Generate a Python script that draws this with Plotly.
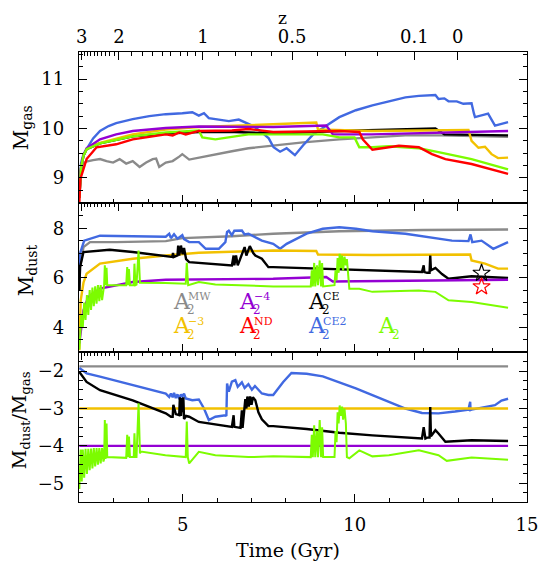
import plotly.graph_objects as go

SERIF = "DejaVu Serif"
GRAY = "#8a8a8a"
BLUE = "#4169e1"
GOLD = "#f2c100"
PURPLE = "#9400d3"
RED = "#ff0000"
GREEN = "#7cfc00"
BLACK = "#000000"

X_RANGE = [1.99, 15.0]

# redshift ticks on the top edges, placed at the matching time (Gyr)
z_labels = ["3", "2", "1", "0.5", "0.1", "0"]
z_label_time = [2.07, 3.15, 5.59, 8.18, 11.73, 12.99]
z_minor_time = [2.15, 2.24, 2.33, 2.43, 2.53, 2.64, 2.76, 2.88, 3.01,
                3.51, 3.84, 4.13, 4.42, 4.66, 4.95, 5.14, 5.38,
                6.05, 6.53, 7.01, 7.57, 8.93, 9.74, 10.66]

# ---------------- top panel: log M_gas
gas_gray_t = [2.0, 2.04, 2.1, 2.2, 2.4, 2.6, 2.79, 2.98, 3.17, 3.36, 3.55, 3.75, 3.94,
              4.13, 4.23, 4.32, 4.51, 4.71, 4.9, 4.99, 5.19, 5.47, 5.95, 6.43, 6.91,
              7.63, 8.5, 9.55, 10.5, 11.47, 12.5, 13.5, 14.45]
gas_gray = [8.75, 9.1, 9.28, 9.33, 9.36, 9.38, 9.34, 9.31, 9.38, 9.29, 9.34, 9.22, 9.31,
            9.38, 9.39, 9.22, 9.31, 9.34, 9.43, 9.48, 9.37, 9.41, 9.48, 9.54, 9.6,
            9.66, 9.72, 9.78, 9.82, 9.86, 9.86, 9.85, 9.83]

gas_blue_t = [2.0, 2.05, 2.12, 2.21, 2.4, 2.6, 2.85, 3.07, 3.3, 3.55, 4.03, 4.51, 4.99,
              5.28, 5.47, 5.62, 5.76, 6.05, 6.34, 6.63, 6.87, 7.05, 7.3, 7.5, 7.64, 7.83,
              8.02, 8.26, 8.5, 8.79, 9.07, 9.55, 10.03, 10.51, 10.99, 11.47, 11.86,
              12.34, 12.43, 12.6, 12.72, 12.96, 13.15, 13.39, 13.46, 13.49, 13.87,
              14.07, 14.45]
gas_blue = [8.8, 9.3, 9.48, 9.58, 9.8, 9.95, 10.05, 10.11, 10.15, 10.19, 10.25, 10.29,
            10.31, 10.33, 10.26, 10.31, 10.21, 10.18, 10.15, 10.18, 10.11, 10.05, 9.92,
            9.8, 9.62, 9.53, 9.6, 9.46, 9.66, 9.88, 10.01, 10.23, 10.37, 10.47, 10.55,
            10.63, 10.66, 10.68, 10.6, 10.61, 10.55, 10.55, 10.5, 10.51, 10.3, 10.23,
            10.3, 10.06, 10.13]

gas_black_t = [2.0, 2.05, 2.12, 2.21, 2.6, 3.55, 4.51, 5.47, 6.5, 7.64, 9.55, 11.0,
               12.34, 12.6, 14.45]
gas_black = [8.6, 9.2, 9.45, 9.58, 9.7, 9.84, 9.9, 9.93, 9.93, 9.9, 9.95, 9.97,
             10.0, 9.88, 9.86]

gas_gold_t = [2.0, 2.05, 2.12, 2.21, 2.4, 2.6, 3.55, 4.51, 5.47, 7.63, 8.88, 8.93,
              10.5, 13.3, 13.39, 13.59, 13.78, 13.97, 14.16, 14.45]
gas_gold = [8.6, 9.2, 9.45, 9.58, 9.66, 9.71, 9.88, 9.98, 10.03, 10.09, 10.12, 9.98,
            9.95, 9.97, 9.75, 9.61, 9.63, 9.48, 9.4, 9.41]

gas_purple_t = [2.0, 2.05, 2.12, 2.21, 2.6, 3.07, 3.55, 4.51, 5.47, 7.63, 9.17, 9.36,
                10.5, 12.43, 14.45]
gas_purple = [8.6, 9.2, 9.45, 9.6, 9.78, 9.88, 9.95, 10.01, 10.04, 10.03, 10.06, 9.88,
              9.88, 9.92, 9.95]

gas_green_t = [2.0, 2.05, 2.12, 2.21, 2.6, 3.55, 4.51, 5.47, 5.57, 5.95, 6.91, 7.63,
               9.07, 9.55, 9.99, 10.13, 10.51, 10.99, 11.86, 12.43, 13.39, 14.45]
gas_green = [8.6, 9.2, 9.45, 9.58, 9.7, 9.84, 9.92, 9.96, 9.82, 9.78, 9.88, 9.88,
             9.88, 9.82, 9.82, 9.62, 9.62, 9.64, 9.6, 9.52, 9.38, 9.17]

gas_red_t = [2.0, 2.03, 2.21, 2.5, 3.07, 3.55, 4.51, 4.71, 4.9, 5.09, 5.47, 6.43, 6.91,
             7.63, 9.55, 10.13, 10.23, 10.51, 11.28, 11.86, 12.24, 12.63, 13.39, 14.45]
gas_red = [8.5, 8.98, 9.38, 9.62, 9.68, 9.78, 9.88, 9.86, 9.92, 9.88, 9.95, 9.96, 9.99,
           9.93, 9.95, 9.93, 9.78, 9.57, 9.65, 9.62, 9.48, 9.38, 9.28, 9.08]

# ---------------- middle panel: log M_dust
dust_gray_t = [2.0, 2.02, 2.12, 2.31, 3.07, 4.51, 4.99, 6.43, 7.63, 9.55, 12.0, 14.45]
dust_gray = [5.5, 6.43, 7.24, 7.44, 7.44, 7.48, 7.6, 7.68, 7.78, 7.88, 7.93, 7.95]

dust_blue_t = [2.0, 2.02, 2.14, 2.6, 4.51, 4.61, 4.66, 4.75, 4.85, 4.99, 5.04, 5.19,
               5.47, 5.67, 6.05, 6.24, 6.29, 6.34, 6.43, 6.5, 6.72, 6.8, 6.91, 7.11,
               7.3, 7.63, 7.83, 8.02, 8.31, 8.6, 9.07, 9.55, 10.03, 10.51, 11.47, 12.34,
               12.82, 13.3, 13.36, 13.41, 13.68, 14.02, 14.45]
dust_blue = [5.8, 6.98, 7.5, 7.7, 7.66, 7.78, 7.6, 7.76, 7.58, 7.72, 7.56, 7.44, 7.44,
             7.17, 7.17, 7.44, 7.85, 7.9, 7.72, 7.9, 7.91, 7.75, 7.78, 7.64, 7.5, 7.37,
             7.17, 7.37, 7.57, 7.78, 7.98, 8.04, 7.98, 7.88, 7.78, 7.6, 7.5, 7.48, 7.75,
             7.44, 7.5, 7.17, 7.44]

dust_gold_t = [2.0, 2.04, 2.12, 2.21, 2.6, 3.55, 4.51, 5.47, 7.63, 8.88, 8.93, 10.5,
               13.35, 13.39, 13.78, 14.16, 14.45]
dust_gold = [3.07, 5.09, 5.8, 6.16, 6.57, 6.77, 6.9, 7.01, 7.1, 7.08, 6.94, 6.92, 6.94,
             6.7, 6.57, 6.37, 6.37]

dust_black_t = [2.0, 2.02, 2.12, 2.5, 2.88, 3.55, 4.51, 4.7, 4.72, 4.74, 4.85, 4.87,
                4.9, 4.95, 5.0, 5.04, 5.1, 5.19, 6.43, 6.48, 6.5, 6.55, 6.6, 6.72, 6.8,
                6.85, 6.95, 7.05, 7.11, 7.3, 7.49, 7.63, 9.55, 11.95, 12.0, 12.02, 12.1,
                12.17, 12.19, 12.21, 12.34, 12.53, 12.72, 13.39, 14.45]
dust_black = [5.5, 6.43, 7.04, 7.1, 7.13, 7.04, 6.86, 6.84, 7.0, 6.84, 6.9, 7.3, 6.9,
              7.3, 6.95, 7.2, 6.75, 6.63, 6.5, 6.9, 6.5, 6.9, 6.5, 6.9, 7.24, 6.9, 7.28,
              7.0, 6.9, 6.77, 6.43, 6.43, 6.34, 6.23, 6.5, 6.23, 6.2, 6.2, 6.9, 6.3,
              6.4, 6.15, 5.96, 6.06, 5.99]

dust_purple_t = [2.0, 2.12, 2.26, 2.6, 3.55, 4.51, 7.63, 9.17, 9.36, 11.47, 14.45]
dust_purple = [3.35, 4.69, 5.22, 5.56, 5.83, 5.92, 5.96, 6.03, 5.85, 5.87, 5.92]

dust_green_t = [2.0, 2.06, 2.1, 2.14, 2.18, 2.22, 2.26, 2.3, 2.34, 2.38, 2.42, 2.46,
                2.5, 2.54, 2.58, 2.62, 2.66, 2.7, 2.72, 2.74, 2.76, 2.79, 2.81, 3.36,
                3.39, 3.42, 3.44, 3.47, 3.58, 3.6, 3.63, 3.66, 3.72, 3.76, 3.79, 4.5,
                5.09, 5.12, 5.16, 5.47, 5.95, 7.63, 8.72, 8.75, 8.78, 8.82, 8.85, 8.9,
                8.93, 8.98, 9.02, 9.05, 9.08, 9.41, 9.44, 9.47, 9.5, 9.53, 9.56, 9.6,
                9.63, 9.66, 9.7, 9.74, 9.77, 9.84, 10.13, 10.51, 11.86, 12.34, 12.72,
                13.39, 14.45]
dust_green = [3.1, 4.5, 4.0, 5.0, 4.3, 5.3, 4.5, 5.5, 4.7, 5.6, 4.85, 5.65, 4.95, 5.7,
              5.05, 5.7, 5.1, 5.7, 5.7, 6.5, 5.7, 6.4, 5.7, 5.7, 6.43, 5.7, 6.35, 5.7,
              5.7, 6.57, 5.7, 5.72, 7.1, 5.8, 5.8, 5.79, 5.76, 6.6, 5.7, 5.83, 5.73,
              5.65, 5.65, 6.3, 5.65, 6.6, 5.65, 6.5, 5.7, 6.7, 5.65, 6.6, 5.65, 5.7,
              6.3, 5.9, 6.8, 6.2, 6.97, 6.4, 6.9, 6.3, 6.85, 6.5, 6.75, 5.56, 5.56,
              5.43, 5.49, 5.43, 5.09, 5.02, 4.79]

star_t = [13.68]
star_black = [6.19]
star_red = [5.64]

# ---------------- bottom panel: log M_dust / M_gas
ratio_flat_t = [2.0, 14.45]
ratio_gray = [-1.875, -1.875]
ratio_gold = [-3.0, -3.0]
ratio_purple = [-4.0, -4.0]

ratio_blue_t = [2.0, 2.21, 2.6, 3.55, 4.51, 4.61, 4.66, 4.71, 4.75, 4.8, 4.85, 4.9,
                4.95, 4.99, 5.04, 5.09, 5.28, 5.47, 5.62, 5.76, 5.95, 6.24, 6.27, 6.29,
                6.34, 6.43, 6.53, 6.6, 6.72, 6.8, 6.91, 7.01, 7.1, 7.3, 7.49, 7.63,
                7.73, 7.92, 8.16, 8.6, 9.07, 9.55, 10.03, 10.51, 10.99, 11.47, 11.95,
                12.43, 12.91, 13.3, 13.35, 13.36, 13.39, 13.78, 14.07, 14.26, 14.45]
ratio_blue = [-1.92, -2.06, -2.15, -2.38, -2.6, -2.69, -2.6, -2.7, -2.58, -2.72, -2.62,
              -2.75, -2.62, -2.68, -2.6, -2.73, -2.78, -2.76, -3.0, -3.31, -3.22, -3.18,
              -3.2, -2.33, -2.55, -2.28, -2.24, -2.42, -2.3, -2.45, -2.35, -2.5, -2.4,
              -2.6, -2.64, -2.64, -2.51, -2.29, -2.05, -2.07, -2.14, -2.29, -2.46,
              -2.64, -2.82, -3.0, -3.12, -3.13, -3.08, -3.03, -2.82, -3.04, -3.03,
              -2.96, -2.91, -2.79, -2.74]

ratio_black_t = [2.0, 2.21, 2.6, 3.55, 4.51, 4.66, 4.71, 4.73, 4.8, 4.9, 4.92, 4.95,
                 4.98, 5.0, 5.02, 5.04, 5.1, 5.19, 5.47, 6.43, 6.48, 6.5, 6.68, 6.72,
                 6.74, 6.82, 6.85, 6.88, 6.92, 6.96, 7.0, 7.04, 7.11, 7.2, 7.3, 7.49,
                 7.63, 8.6, 9.55, 10.51, 11.95, 12.0, 12.05, 12.1, 12.17, 12.19, 12.21,
                 12.34, 12.43, 12.63, 13.39, 14.45]
ratio_black = [-2.02, -2.29, -2.51, -2.78, -3.13, -3.22, -3.22, -2.9, -3.15, -3.18,
               -2.7, -3.2, -2.72, -3.1, -2.7, -3.28, -3.2, -3.22, -3.36, -3.49, -3.18,
               -3.49, -3.52, -3.05, -3.52, -2.75, -3.0, -2.68, -2.95, -2.68, -2.9, -2.7,
               -2.78, -3.1, -3.29, -3.47, -3.47, -3.55, -3.65, -3.72, -3.8, -3.5, -3.8,
               -3.78, -3.78, -2.96, -3.74, -3.58, -3.67, -3.89, -3.85, -3.87]

ratio_green_t = [2.0, 2.04, 2.07, 2.1, 2.14, 2.18, 2.22, 2.26, 2.3, 2.34, 2.38, 2.42,
                 2.46, 2.5, 2.54, 2.58, 2.62, 2.66, 2.7, 2.72, 2.74, 2.76, 2.79, 2.81,
                 3.36, 3.39, 3.42, 3.44, 3.47, 3.58, 3.6, 3.63, 3.66, 3.72, 3.76, 3.79,
                 4.5, 5.09, 5.12, 5.15, 5.19, 5.47, 5.95, 6.91, 7.63, 8.6, 8.72, 8.75,
                 8.78, 8.82, 8.85, 8.9, 8.93, 8.98, 9.02, 9.05, 9.08, 9.41, 9.44, 9.47,
                 9.5, 9.53, 9.56, 9.6, 9.63, 9.66, 9.7, 9.74, 9.77, 9.84, 10.13, 10.51,
                 10.99, 11.86, 12.43, 12.67, 13.39, 14.45]
ratio_green = [-5.15, -4.1, -4.95, -4.1, -4.85, -4.08, -4.75, -4.08, -4.65, -4.07,
               -4.6, -4.06, -4.55, -4.06, -4.5, -4.06, -4.47, -4.06, -4.42, -4.35,
               -3.31, -4.35, -3.4, -4.3, -4.32, -3.7, -4.3, -3.75, -4.3, -4.3, -3.66,
               -4.3, -4.3, -2.86, -4.2, -4.15, -4.25, -4.3, -3.35, -4.3, -4.47, -4.16,
               -4.25, -4.3, -4.28, -4.3, -4.3, -3.7, -4.3, -3.45, -4.3, -3.6, -4.3,
               -3.31, -4.3, -3.5, -4.3, -4.3, -3.6, -3.9, -3.1, -3.4, -2.92, -3.2,
               -2.95, -3.3, -3.0, -3.4, -4.3, -4.33, -4.12, -4.28, -4.25, -4.12, -4.25,
               -4.4, -4.31, -4.37]

PANELS = {
    "top": ("x", "y"),
    "mid": ("x2", "y2"),
    "bot": ("x3", "y3"),
}

fig = go.Figure()


def add_line(t, v, color, panel, width=2.4):
    xa, ya = PANELS[panel]
    fig.add_trace(
        go.Scatter(x=t, y=v, mode="lines", xaxis=xa, yaxis=ya,
                   line={"color": color, "width": width}, showlegend=False,
                   hoverinfo="skip")
    )


add_line(gas_gray_t, gas_gray, GRAY, "top")
add_line(gas_blue_t, gas_blue, BLUE, "top")
add_line(gas_black_t, gas_black, BLACK, "top")
add_line(gas_gold_t, gas_gold, GOLD, "top")
add_line(gas_purple_t, gas_purple, PURPLE, "top")
add_line(gas_green_t, gas_green, GREEN, "top")
add_line(gas_red_t, gas_red, RED, "top")

add_line(dust_gray_t, dust_gray, GRAY, "mid")
add_line(dust_blue_t, dust_blue, BLUE, "mid")
add_line(dust_gold_t, dust_gold, GOLD, "mid")
add_line(dust_black_t, dust_black, BLACK, "mid")
add_line(dust_purple_t, dust_purple, PURPLE, "mid")
add_line(dust_green_t, dust_green, GREEN, "mid", width=2)
for sv, col in [(star_black, BLACK), (star_red, RED)]:
    fig.add_trace(
        go.Scatter(x=star_t, y=sv, mode="markers", xaxis="x2", yaxis="y2",
                   marker={"symbol": "star-open", "size": 13, "color": col,
                           "line": {"width": 1.2, "color": col}},
                   showlegend=False, hoverinfo="skip")
    )

add_line(ratio_flat_t, ratio_gray, GRAY, "bot")
add_line(ratio_blue_t, ratio_blue, BLUE, "bot")
add_line(ratio_flat_t, ratio_gold, GOLD, "bot")
add_line(ratio_black_t, ratio_black, BLACK, "bot")
add_line(ratio_flat_t, ratio_purple, PURPLE, "bot")
add_line(ratio_green_t, ratio_green, GREEN, "bot", width=2)

# empty traces so the redshift axes on top of each panel get drawn
for za, ya in [("x4", "y"), ("x5", "y2"), ("x6", "y3")]:
    fig.add_trace(
        go.Scatter(x=z_label_time, y=[None] * len(z_label_time), xaxis=za, yaxis=ya,
                   mode="lines", showlegend=False, hoverinfo="skip")
    )

TICKFONT = {"family": SERIF, "size": 18, "color": "black"}


def time_axis(anchor, labels):
    return {
        "anchor": anchor, "domain": [0, 1], "range": X_RANGE,
        "tickmode": "array", "tickvals": [5, 10, 15],
        "ticks": "inside", "ticklen": 8, "tickcolor": "black", "tickwidth": 1,
        "minor": {"tickmode": "linear", "tick0": 0, "dtick": 1, "ticks": "inside",
                  "ticklen": 4, "tickcolor": "black", "tickwidth": 1},
        "showticklabels": labels, "tickfont": TICKFONT, "ticklabelstandoff": 6,
        "showline": True, "linecolor": "black", "linewidth": 1.3, "mirror": True,
        "showgrid": False, "zeroline": False,
    }


def z_axis(over, anchor, labels):
    return {
        "overlaying": over, "anchor": anchor, "side": "top", "range": X_RANGE,
        "tickmode": "array", "tickvals": z_label_time, "ticktext": z_labels,
        "ticks": "inside", "ticklen": 8, "tickcolor": "black", "tickwidth": 1,
        "minor": {"tickmode": "array", "tickvals": z_minor_time, "ticks": "inside",
                  "ticklen": 4, "tickcolor": "black", "tickwidth": 1},
        "showticklabels": labels, "tickfont": TICKFONT, "ticklabelstandoff": 4,
        "showline": False, "showgrid": False, "zeroline": False,
    }


def value_axis(domain, rng, vals, minor_dtick, anchor):
    return {
        "anchor": anchor, "domain": domain, "range": rng,
        "tickmode": "array", "tickvals": vals,
        "ticks": "inside", "ticklen": 8, "tickcolor": "black", "tickwidth": 1,
        "minor": {"tickmode": "linear", "tick0": 0, "dtick": minor_dtick,
                  "ticks": "inside", "ticklen": 4, "tickcolor": "black",
                  "tickwidth": 1},
        "tickfont": TICKFONT, "ticklabelstandoff": 10,
        "showline": True, "linecolor": "black", "linewidth": 1.3, "mirror": "ticks",
        "showgrid": False, "zeroline": False,
    }


def px_x(px):
    return (px - 79) / 450


def px_y(py):
    return (502 - py) / 450


def title_note(text, px, py, size, angle=0):
    return dict(text=text, x=px_x(px), y=px_y(py), xref="paper", yref="paper",
                xanchor="center", yanchor="middle", textangle=angle,
                showarrow=False, font={"family": SERIF, "size": size, "color": "black"})


annotations = [
    title_note("z", 283, 18, 17),
    title_note("Time (Gyr)", 289, 550, 19),
    title_note("M<sub>gas</sub>", 22, 128, 20, -90),
    title_note("M<sub>dust</sub>", 27, 270, 20, -90),
    title_note("M<sub>dust</sub>/M<sub>gas</sub>", 20, 420, 19, -90),
]


def legend_entry(left, center, sup, color):
    base = {"xref": "paper", "yref": "paper", "showarrow": False,
            "xanchor": "left", "yanchor": "middle"}
    out = [dict(base, text="A", x=px_x(left - 1), y=px_y(center),
                font={"family": SERIF, "size": 22, "color": color}),
           dict(base, text="2", x=px_x(left + 13), y=px_y(center + 9),
                font={"family": SERIF, "size": 12, "color": color})]
    if sup:
        out.append(dict(base, text=sup, x=px_x(left + 14), y=px_y(center - 5),
                        font={"family": SERIF, "size": 11, "color": color}))
    return out


annotations += legend_entry(172, 301, "MW", GRAY)
annotations += legend_entry(239, 301, "\u22124", PURPLE)
annotations += legend_entry(308, 301, "CE", BLACK)
annotations += legend_entry(172, 326, "\u22123", GOLD)
annotations += legend_entry(239, 326, "ND", RED)
annotations += legend_entry(308, 326, "CE2", BLUE)
annotations += legend_entry(378, 326, "", GREEN)

# the page body adds an 8 px offset, so margins are trimmed by that amount
fig.update_layout(
    {
        "width": 542,
        "height": 557,
        "margin": {"l": 71, "r": 21, "t": 44, "b": 63},
        "paper_bgcolor": "white",
        "plot_bgcolor": "white",
        "showlegend": False,
        "font": {"family": SERIF, "color": "black"},
        "xaxis": time_axis("y", False),
        "xaxis2": time_axis("y2", False),
        "xaxis3": time_axis("y3", True),
        "xaxis4": z_axis("x", "y", True),
        "xaxis5": z_axis("x2", "y2", False),
        "xaxis6": z_axis("x3", "y3", False),
        "yaxis": value_axis([0.6644, 1.0], [8.49, 11.55], [9, 10, 11], 0.25, "x"),
        "yaxis2": value_axis([0.3333, 0.6644], [3.0, 9.02], [4, 6, 8], 0.5, "x2"),
        "yaxis3": value_axis([0.0, 0.3333], [-5.5, -1.49], [-5, -4, -3, -2], 0.25, "x3"),
        "annotations": annotations,
    }
)

fig.write_html("out.html")
